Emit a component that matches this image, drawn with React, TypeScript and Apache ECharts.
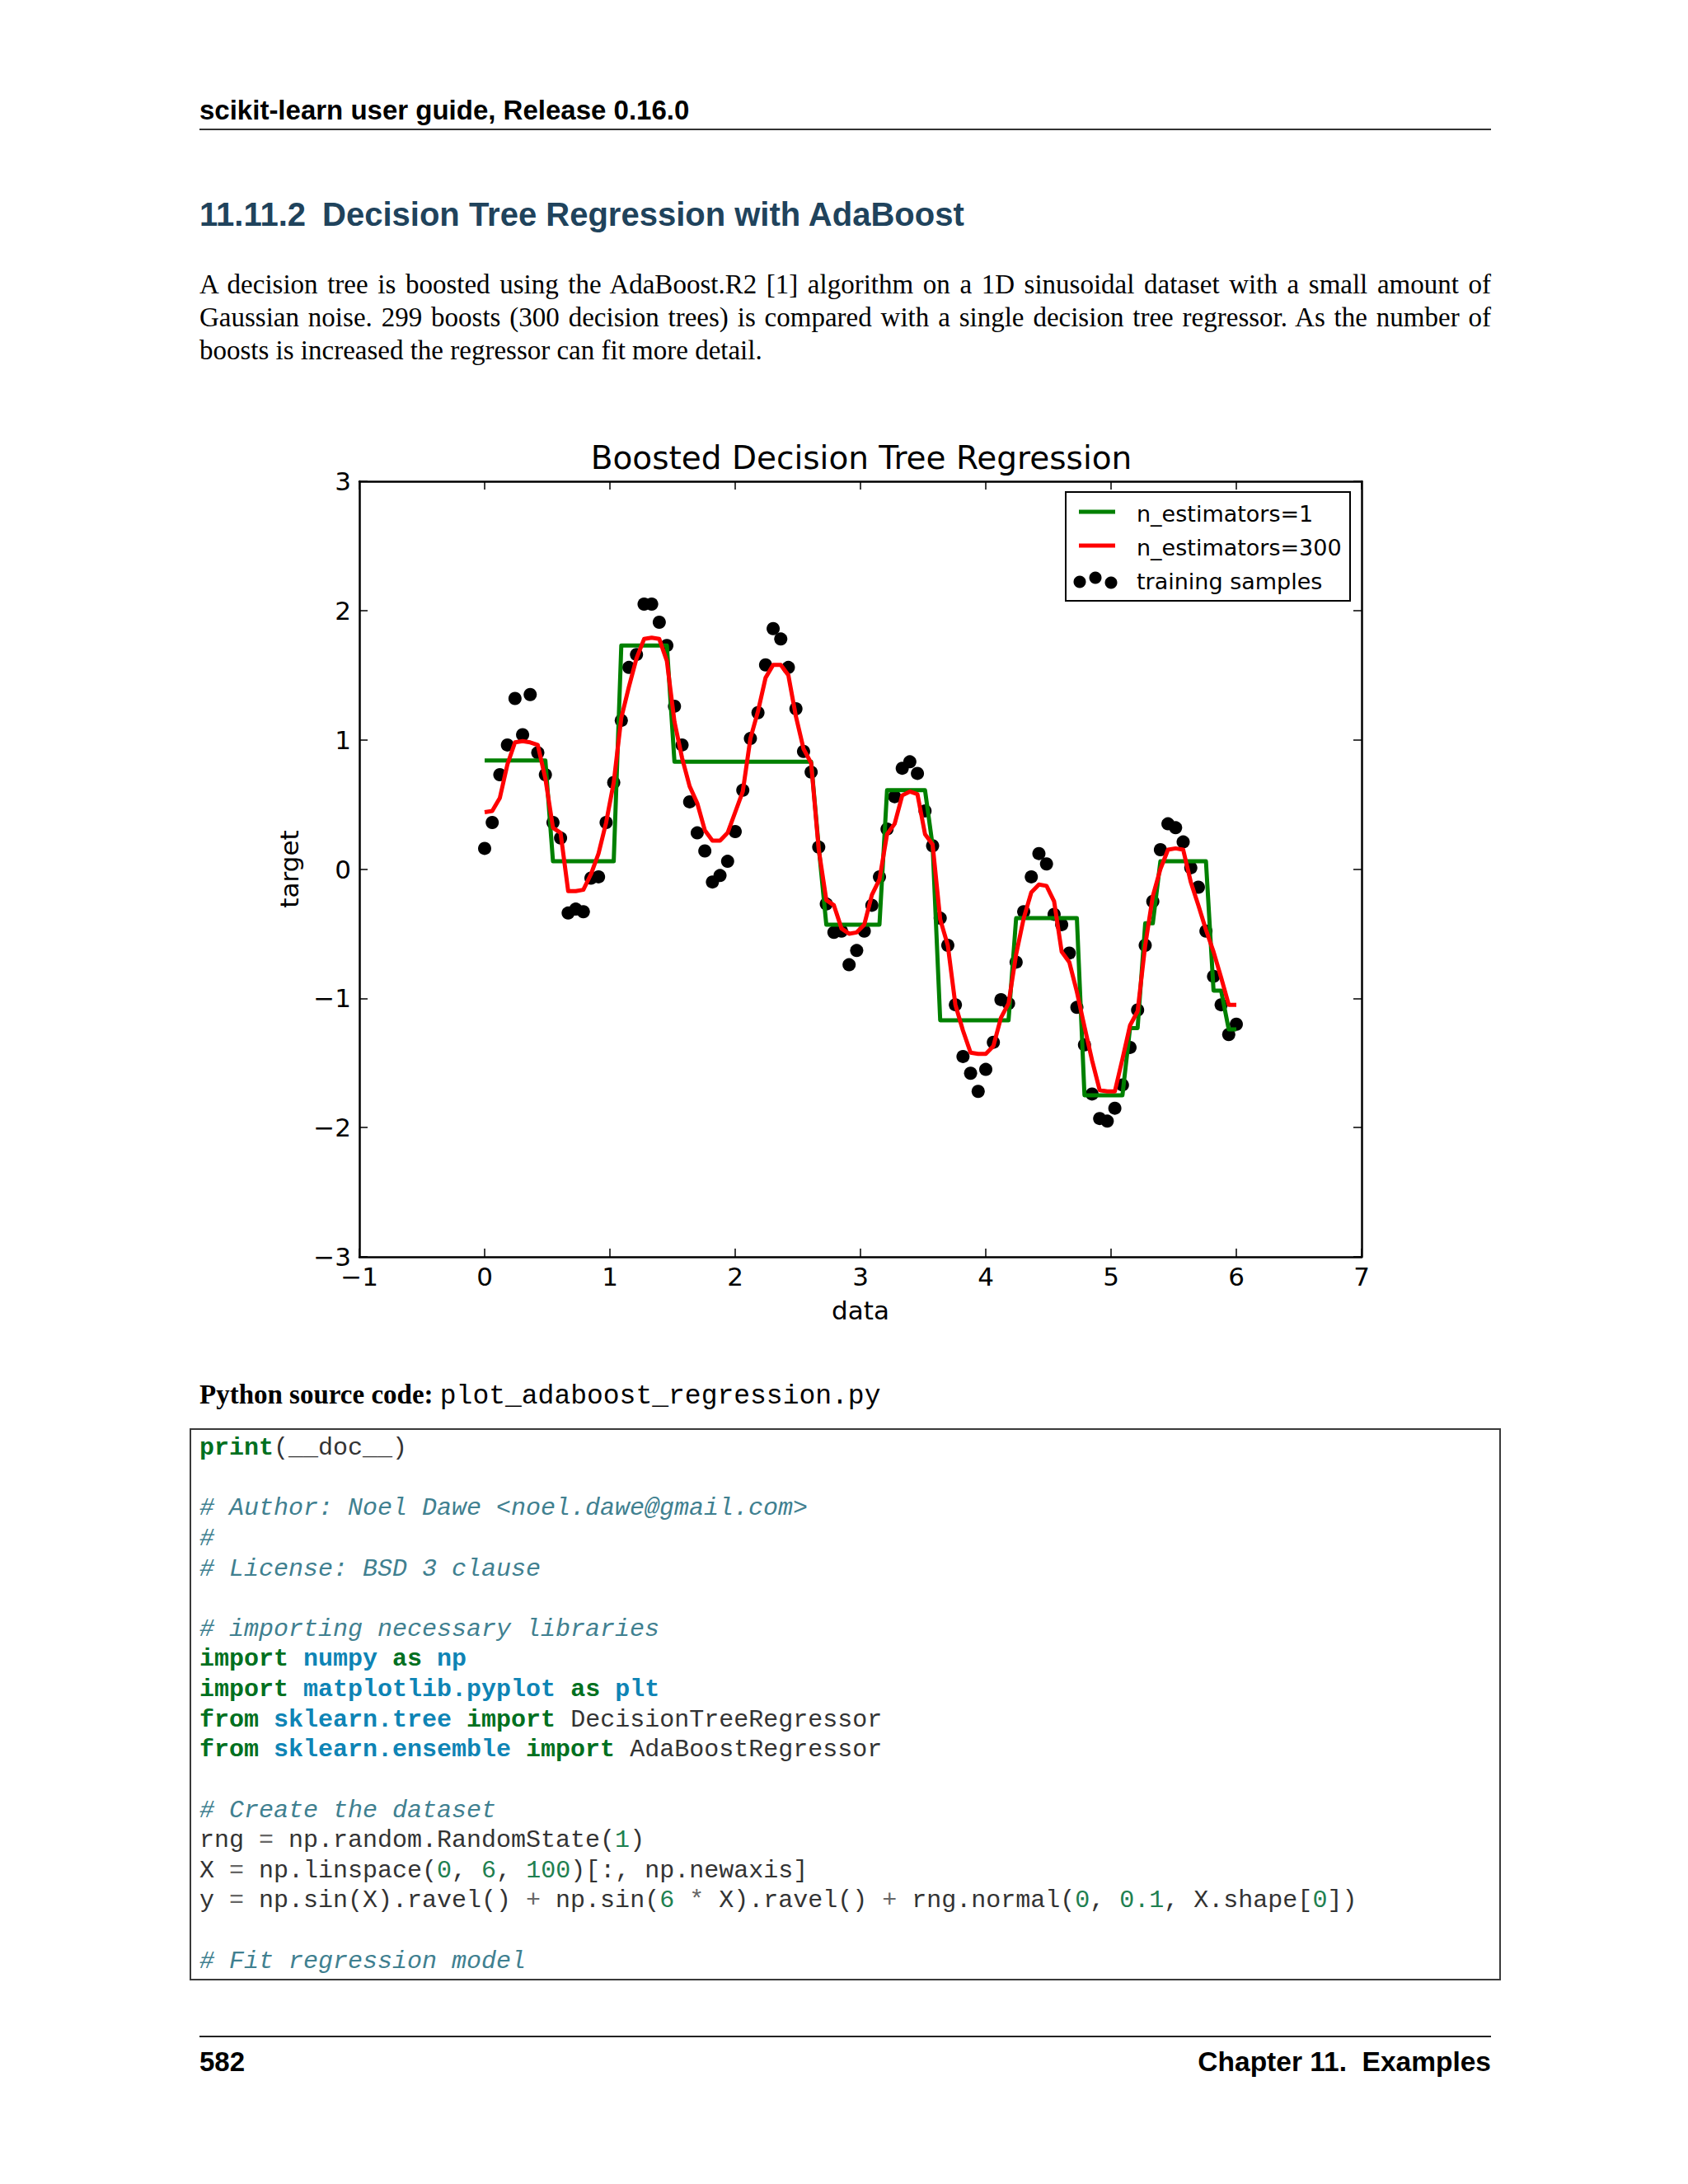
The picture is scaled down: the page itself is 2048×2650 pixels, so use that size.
import React, { useEffect, useRef } from "react";
import * as echarts from "echarts";

// ---------------- data ----------------
const X_DATA = [
  0.0, 0.0606, 0.1212, 0.1818, 0.2424, 0.303, 0.3636, 0.4242, 0.4848, 0.5455,
  0.6061, 0.6667, 0.7273, 0.7879, 0.8485, 0.9091, 0.9697, 1.0303, 1.0909, 1.1515,
  1.2121, 1.2727, 1.3333, 1.3939, 1.4545, 1.5152, 1.5758, 1.6364, 1.697, 1.7576,
  1.8182, 1.8788, 1.9394, 2.0, 2.0606, 2.1212, 2.1818, 2.2424, 2.303, 2.3636,
  2.4242, 2.4848, 2.5455, 2.6061, 2.6667, 2.7273, 2.7879, 2.8485, 2.9091, 2.9697,
  3.0303, 3.0909, 3.1515, 3.2121, 3.2727, 3.3333, 3.3939, 3.4545, 3.5152, 3.5758,
  3.6364, 3.697, 3.7576, 3.8182, 3.8788, 3.9394, 4.0, 4.0606, 4.1212, 4.1818,
  4.2424, 4.303, 4.3636, 4.4242, 4.4848, 4.5455, 4.6061, 4.6667, 4.7273, 4.7879,
  4.8485, 4.9091, 4.9697, 5.0303, 5.0909, 5.1515, 5.2121, 5.2727, 5.3333, 5.3939,
  5.4545, 5.5152, 5.5758, 5.6364, 5.697, 5.7576, 5.8182, 5.8788, 5.9394, 6.0,
];

const Y_SAMPLES = [
  0.16, 0.36, 0.73, 0.96, 1.32, 1.04, 1.35, 0.9, 0.73, 0.36,
  0.24, -0.34, -0.31, -0.33, -0.07, -0.06, 0.36, 0.67, 1.15, 1.56,
  1.66, 2.05, 2.05, 1.91, 1.73, 1.26, 0.96, 0.52, 0.28, 0.14,
  -0.1, -0.05, 0.06, 0.29, 0.61, 1.01, 1.21, 1.58, 1.86, 1.78,
  1.56, 1.24, 0.91, 0.75, 0.17, -0.27, -0.49, -0.48, -0.74, -0.63,
  -0.48, -0.28, -0.06, 0.31, 0.56, 0.78, 0.83, 0.74, 0.45, 0.18,
  -0.38, -0.59, -1.05, -1.45, -1.58, -1.72, -1.55, -1.34, -1.01, -1.04,
  -0.72, -0.33, -0.06, 0.12, 0.04, -0.35, -0.43, -0.65, -1.07, -1.36,
  -1.74, -1.93, -1.95, -1.85, -1.67, -1.38, -1.09, -0.59, -0.25, 0.15,
  0.35, 0.32, 0.21, 0.01, -0.14, -0.48, -0.83, -1.05, -1.28, -1.2,
];

const Y_TREE_1 = [
  0.84, 0.84, 0.84, 0.84, 0.84, 0.84, 0.84, 0.84, 0.84, 0.06,
  0.06, 0.06, 0.06, 0.06, 0.06, 0.06, 0.06, 0.06, 1.73, 1.73,
  1.73, 1.73, 1.73, 1.73, 1.73, 0.83, 0.83, 0.83, 0.83, 0.83,
  0.83, 0.83, 0.83, 0.83, 0.83, 0.83, 0.83, 0.83, 0.83, 0.83,
  0.83, 0.83, 0.83, 0.83, 0.17, -0.43, -0.43, -0.43, -0.43, -0.43,
  -0.43, -0.43, -0.43, 0.61, 0.61, 0.61, 0.61, 0.61, 0.61, 0.18,
  -1.17, -1.17, -1.17, -1.17, -1.17, -1.17, -1.17, -1.17, -1.17, -1.17,
  -0.38, -0.38, -0.38, -0.38, -0.38, -0.38, -0.38, -0.38, -0.38, -1.75,
  -1.75, -1.75, -1.75, -1.75, -1.75, -1.23, -1.23, -0.42, -0.42, 0.06,
  0.06, 0.06, 0.06, 0.06, 0.06, 0.06, -0.94, -0.94, -1.24, -1.24,
];

const Y_BOOST_300 = [
  0.44, 0.45, 0.55, 0.81, 0.98, 0.99, 0.98, 0.96, 0.7, 0.32,
  0.28, -0.17, -0.17, -0.16, -0.04, 0.12, 0.36, 0.67, 1.17, 1.41,
  1.63, 1.78, 1.79, 1.78, 1.61, 1.14, 0.86, 0.64, 0.51, 0.3,
  0.22, 0.22, 0.28, 0.44, 0.6, 1.01, 1.22, 1.48, 1.58, 1.58,
  1.5, 1.18, 0.93, 0.82, 0.15, -0.24, -0.28, -0.46, -0.5, -0.49,
  -0.43, -0.2, -0.08, 0.27, 0.35, 0.57, 0.6, 0.58, 0.27, 0.19,
  -0.39, -0.59, -1.05, -1.25, -1.42, -1.43, -1.43, -1.37, -1.15, -1.04,
  -0.66, -0.38, -0.18, -0.12, -0.13, -0.25, -0.64, -0.72, -0.95, -1.22,
  -1.48, -1.71, -1.72, -1.72, -1.47, -1.21, -1.1, -0.59, -0.21, 0.0,
  0.15, 0.16, 0.15, -0.1, -0.28, -0.47, -0.64, -0.84, -1.05, -1.05,
];

const SERIES_NAMES = ["n_estimators=1", "n_estimators=300", "training samples"];
const CHART_TITLE = "Boosted Decision Tree Regression";
const X_NAME = "data";
const Y_NAME = "target";

// ---------------- page text ----------------
const HEADER_TEXT = "scikit-learn user guide, Release 0.16.0";
const SECTION_TITLE = "11.11.2\u2002Decision Tree Regression with AdaBoost";
const PARAGRAPH_LINES = [
  "A decision tree is boosted using the AdaBoost.R2 [1] algorithm on a 1D sinusoidal dataset with a small amount of",
  "Gaussian noise.  299 boosts (300 decision trees) is compared with a single decision tree regressor.  As the number of",
  "boosts is increased the regressor can fit more detail.",
];
const SOURCE_LABEL = "Python source code:";
const SOURCE_FILE = "plot_adaboost_regression.py";
const FOOTER_LEFT = "582";
const FOOTER_RIGHT = "Chapter 11.  Examples";

type Tok = [string, string?];
const CODE_LINES: Tok[][] = [
  [["print", "kw"], ["(__doc__)"]],
  [],
  [["# Author: Noel Dawe <noel.dawe@gmail.com>", "cm"]],
  [["#", "cm"]],
  [["# License: BSD 3 clause", "cm"]],
  [],
  [["# importing necessary libraries", "cm"]],
  [["import", "kw"], [" "], ["numpy", "mod"], [" "], ["as", "kw"], [" "], ["np", "mod"]],
  [["import", "kw"], [" "], ["matplotlib.pyplot", "mod"], [" "], ["as", "kw"], [" "], ["plt", "mod"]],
  [["from", "kw"], [" "], ["sklearn.tree", "mod"], [" "], ["import", "kw"], [" DecisionTreeRegressor"]],
  [["from", "kw"], [" "], ["sklearn.ensemble", "mod"], [" "], ["import", "kw"], [" AdaBoostRegressor"]],
  [],
  [["# Create the dataset", "cm"]],
  [["rng "], ["=", "op"], [" np.random.RandomState("], ["1", "num"], [")"]],
  [["X "], ["=", "op"], [" np.linspace("], ["0", "num"], [", "], ["6", "num"], [", "], ["100", "num"], [")[:, np.newaxis]"]],
  [
    ["y "], ["=", "op"], [" np.sin(X).ravel() "], ["+", "op"], [" np.sin("], ["6", "num"], [" "], ["*", "op"],
    [" X).ravel() "], ["+", "op"], [" rng.normal("], ["0", "num"], [", "], ["0.1", "num"], [", X.shape["], ["0", "num"], ["])"],
  ],
  [],
  [["# Fit regression model", "cm"]],
];

const TOKEN_STYLES: Record<string, React.CSSProperties> = {
  kw: { color: "#007020", fontWeight: "bold" },
  mod: { color: "#0e84b5", fontWeight: "bold" },
  cm: { color: "#408090", fontStyle: "italic" },
  num: { color: "#208050" },
  op: { color: "#666666" },
  plain: { color: "#333333" },
};

const FONT = "DejaVu Sans";
const SANS = '"Liberation Sans", Arial, sans-serif';
const SERIF = '"Liberation Serif", "Times New Roman", serif';
const MONO = '"Liberation Mono", "DejaVu Sans Mono", monospace';

function fmtTick(v: number): string {
  return v < 0 ? "\u2212" + Math.abs(v) : String(v);
}

function Chart() {
  const ref = useRef<HTMLDivElement>(null);
  useEffect(() => {
    if (!ref.current) return;
    const chart = echarts.init(ref.current, null, { renderer: "svg" });
    const axisLine = { show: true, onZero: false, lineStyle: { color: "#000", width: 2.5 } };
    const tick = { show: true, inside: true, length: 10, lineStyle: { color: "#000", width: 1.5 } };
    const label = {
      show: true,
      fontFamily: FONT,
      fontSize: 31,
      color: "#000",
      formatter: fmtTick,
      showMinLabel: true,
      showMaxLabel: true,
    };
    const nameStyle = { fontFamily: FONT, fontSize: 31, color: "#000" };
    const legendX = 1309;
    const legendRows = [622, 663, 704];
    const option: any = {
      animation: false,
      title: {
        text: CHART_TITLE,
        left: 1045,
        top: 536,
        textAlign: "center",
        padding: 0,
        textStyle: { fontFamily: FONT, fontSize: 39, fontWeight: "normal", color: "#000" },
      },
      grid: { left: 436, top: 584, width: 1216, height: 941, containLabel: false },
      xAxis: [
        {
          type: "value", min: -1, max: 7, interval: 1, position: "bottom",
          axisLine, axisTick: tick, axisLabel: { ...label, margin: 8 },
          splitLine: { show: false },
          name: X_NAME, nameLocation: "middle", nameGap: 49, nameTextStyle: nameStyle,
        },
        {
          type: "value", min: -1, max: 7, interval: 1, position: "top",
          axisLine, axisTick: tick, axisLabel: { show: false }, splitLine: { show: false },
        },
      ],
      yAxis: [
        {
          type: "value", min: -3, max: 3, interval: 1, position: "left",
          axisLine, axisTick: tick, axisLabel: { ...label, margin: 10 },
          splitLine: { show: false },
          name: Y_NAME, nameLocation: "middle", nameRotate: 90, nameGap: 70, nameTextStyle: nameStyle,
        },
        {
          type: "value", min: -3, max: 3, interval: 1, position: "right",
          axisLine, axisTick: tick, axisLabel: { show: false }, splitLine: { show: false },
        },
      ],
      series: [
        {
          name: SERIES_NAMES[2], type: "scatter", xAxisIndex: 0, yAxisIndex: 0,
          data: X_DATA.map((x, i) => [x, Y_SAMPLES[i]]),
          symbol: "circle", symbolSize: 16, itemStyle: { color: "#000", opacity: 1 },
        },
        {
          name: SERIES_NAMES[0], type: "line", xAxisIndex: 0, yAxisIndex: 0,
          data: X_DATA.map((x, i) => [x, Y_TREE_1[i]]),
          symbol: "none", lineStyle: { color: "#008000", width: 5, join: "round" },
        },
        {
          name: SERIES_NAMES[1], type: "line", xAxisIndex: 0, yAxisIndex: 0,
          data: X_DATA.map((x, i) => [x, Y_BOOST_300[i]]),
          symbol: "none", lineStyle: { color: "#ff0000", width: 5, join: "round" },
        },
      ],
      graphic: [
        {
          type: "rect", z: 100,
          shape: { x: 1293, y: 597, width: 345, height: 132 },
          style: { fill: "#fff", stroke: "#000", lineWidth: 2 },
        },
        {
          type: "line", z: 101,
          shape: { x1: legendX, y1: legendRows[0] - 1, x2: legendX + 44, y2: legendRows[0] - 1 },
          style: { stroke: "#008000", lineWidth: 5 },
        },
        {
          type: "line", z: 101,
          shape: { x1: legendX, y1: legendRows[1] - 1, x2: legendX + 44, y2: legendRows[1] - 1 },
          style: { stroke: "#ff0000", lineWidth: 5 },
        },
        { type: "circle", z: 101, shape: { cx: legendX + 1, cy: legendRows[2] + 2, r: 7.5 }, style: { fill: "#000" } },
        { type: "circle", z: 101, shape: { cx: legendX + 20, cy: legendRows[2] - 3, r: 7.5 }, style: { fill: "#000" } },
        { type: "circle", z: 101, shape: { cx: legendX + 39, cy: legendRows[2] + 3, r: 7.5 }, style: { fill: "#000" } },
        ...SERIES_NAMES.map((name, i) => ({
          type: "text", z: 101, x: 1379, y: legendRows[i] + 1,
          style: { text: name, fontFamily: FONT, fontSize: 27, fill: "#000", align: "left", verticalAlign: "middle" },
        })),
      ],
    };
    chart.setOption(option);
    return () => chart.dispose();
  }, []);
  return (
    <div ref={ref} style={{ position: "absolute", left: 0, top: 0, width: 2048, height: 2650 }} />
  );
}

export default function App() {
  const codeTop = 1757;
  const codePitch = 36.63;
  return (
    <div
      style={{
        position: "absolute", left: 0, top: 0, width: 2048, height: 2650,
        background: "#fff", overflow: "hidden",
      }}
    >
      <Chart />
      {/* running header */}
      <div style={{ position: "absolute", left: 242, top: 117, fontFamily: SANS, fontWeight: "bold", fontSize: 33, lineHeight: "33px", color: "#000", whiteSpace: "pre" }}>
        {HEADER_TEXT}
      </div>
      <div style={{ position: "absolute", left: 242, top: 156, width: 1567, height: 2, background: "#333" }} />
      {/* section title */}
      <div style={{ position: "absolute", left: 242, top: 240, fontFamily: SANS, fontWeight: "bold", fontSize: 40, lineHeight: "40px", color: "#20435c", whiteSpace: "pre" }}>
        {SECTION_TITLE}
      </div>
      {/* paragraph */}
      {PARAGRAPH_LINES.map((line, i) => (
        <div
          key={i}
          style={{
            position: "absolute", left: 242, top: 329 + i * 39.8, width: 1567,
            fontFamily: SERIF, fontSize: 33, lineHeight: "33px", color: "#000",
            textAlign: i < PARAGRAPH_LINES.length - 1 ? "justify" : "left",
            textAlignLast: i < PARAGRAPH_LINES.length - 1 ? "justify" : "left",
          } as React.CSSProperties}
        >
          {line}
        </div>
      ))}
      {/* source label */}
      <div style={{ position: "absolute", left: 242, top: 1676, fontSize: 33, lineHeight: "33px", color: "#000", whiteSpace: "pre" }}>
        <span style={{ fontFamily: SERIF, fontWeight: "bold" }}>{SOURCE_LABEL}</span>
        <span style={{ fontFamily: SERIF }}> </span>
        <span style={{ fontFamily: MONO, fontSize: 33 }}>{SOURCE_FILE}</span>
      </div>
      {/* code box */}
      <div style={{ position: "absolute", left: 230, top: 1733, width: 1591, height: 670, border: "2px solid #3a3a3a", boxSizing: "border-box", background: "#fff" }} />
      {CODE_LINES.map((toks, i) => (
        <div
          key={i}
          style={{
            position: "absolute", left: 242, top: codeTop + i * codePitch - 15,
            fontFamily: MONO, fontSize: 30, lineHeight: "30px", whiteSpace: "pre",
          }}
        >
          {toks.map((t, j) => (
            <span key={j} style={TOKEN_STYLES[t[1] || "plain"]}>{t[0]}</span>
          ))}
        </div>
      ))}
      {/* footer */}
      <div style={{ position: "absolute", left: 242, top: 2470, width: 1567, height: 2, background: "#222" }} />
      <div style={{ position: "absolute", left: 242, top: 2485, fontFamily: SANS, fontWeight: "bold", fontSize: 33, lineHeight: "33px", color: "#000" }}>
        {FOOTER_LEFT}
      </div>
      <div style={{ position: "absolute", left: 1009, top: 2485, width: 800, textAlign: "right", fontFamily: SANS, fontWeight: "bold", fontSize: 33.5, lineHeight: "33px", color: "#000", whiteSpace: "pre" }}>
        {FOOTER_RIGHT}
      </div>
    </div>
  );
}
